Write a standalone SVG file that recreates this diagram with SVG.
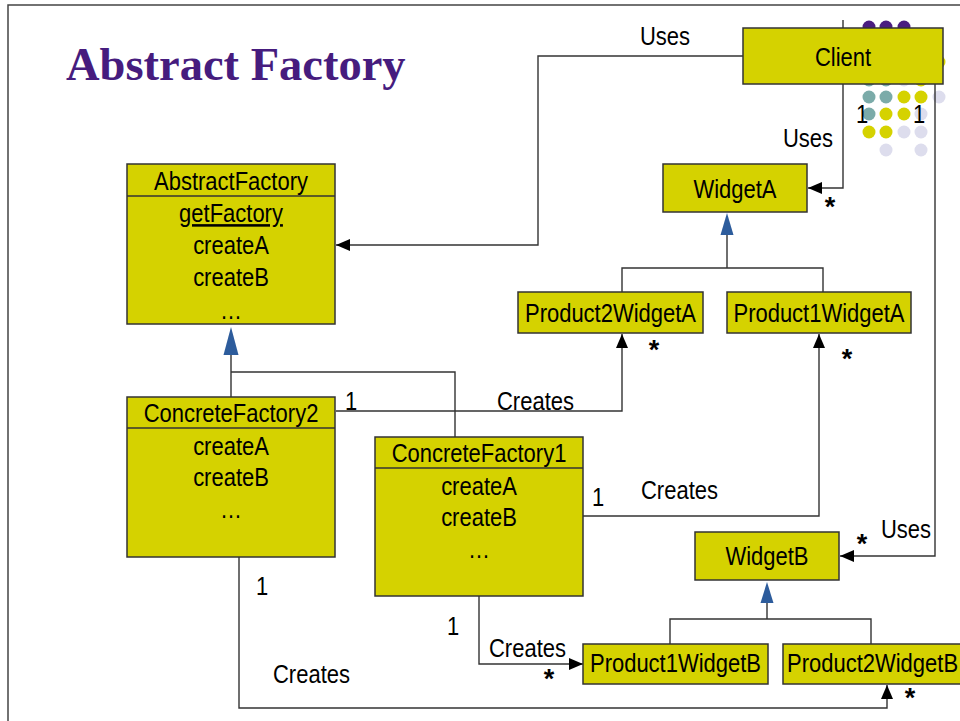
<svg xmlns="http://www.w3.org/2000/svg" width="960" height="721" viewBox="0 0 960 721">
<defs>
<style>
.box{fill:#D5D200;stroke:#333;stroke-width:1.5}
.div{stroke:#333;stroke-width:1.5}
.ln{fill:none;stroke:#333;stroke-width:1.4}
.arr{fill:none;stroke:#333;stroke-width:1.4;marker-end:url(#ah)}
.gen{fill:#2D5C9C;stroke:none}
.t{font-family:"Liberation Sans",Arial,sans-serif;font-size:22px;fill:#000}
.m{text-anchor:middle}
.st{font-family:"Liberation Sans",Arial,sans-serif;font-size:27px;font-weight:bold;fill:#000;text-anchor:middle}
.dp{fill:#4A1D80}.dt{fill:#7BABA9}.dy{fill:#D5D200}.dl{fill:#DDDDED}
</style>
<marker id="ah" markerUnits="userSpaceOnUse" markerWidth="14" markerHeight="12" refX="14" refY="6" orient="auto">
<path d="M0,0 L14,6 L0,12 z" fill="#000"/>
</marker>
</defs>
<rect width="960" height="721" fill="#fff"/>
<g id="frame">
<path d="M8,721 V5 H960" fill="none" stroke="#444" stroke-width="1.5"/>
</g>
<g id="dots">
<circle class="dp" cx="869" cy="27" r="6.5"/><circle class="dp" cx="886" cy="27" r="6.5"/><circle class="dp" cx="904" cy="27" r="6.5"/>
<circle class="dy" cx="939" cy="62" r="6.5"/>
<circle class="dt" cx="869" cy="80" r="6.5"/><circle class="dt" cx="886" cy="80" r="6.5"/><circle class="dl" cx="904" cy="80" r="6.5"/><circle class="dy" cx="921" cy="80" r="6.5"/>
<circle class="dt" cx="869" cy="97" r="6.5"/><circle class="dt" cx="886" cy="97" r="6.5"/><circle class="dy" cx="904" cy="97" r="6.5"/><circle class="dy" cx="921" cy="97" r="6.5"/><circle class="dl" cx="939" cy="97" r="6.5"/>
<circle class="dt" cx="869" cy="114" r="6.5"/><circle class="dy" cx="886" cy="114" r="6.5"/><circle class="dy" cx="904" cy="114" r="6.5"/><circle class="dl" cx="921" cy="114" r="6.5"/>
<circle class="dy" cx="869" cy="132" r="6.5"/><circle class="dy" cx="886" cy="132" r="6.5"/><circle class="dl" cx="904" cy="132" r="6.5"/><circle class="dl" cx="921" cy="132" r="6.5"/>
<circle class="dl" cx="886" cy="150" r="6.5"/><circle class="dl" cx="921" cy="150" r="6.5"/>
</g>
<text x="66" y="80" font-family="'Liberation Serif','Times New Roman',serif" font-size="46.5" font-weight="bold" fill="#461C7E">Abstract Factory</text>
<g id="connectors">
<path class="arr" d="M743,56 H538 V245 H336"/>
<path class="arr" d="M843,20 V188 H808"/>
<path class="arr" d="M935,84 V556 H840"/>
<path class="ln" d="M727,234 V268 M622,292 V268 H823 V292"/>
<polygon class="gen" points="727,213 720.5,235 733.5,235"/>
<path class="ln" d="M767,602 V619 M670,644 V619 H871 V644"/>
<polygon class="gen" points="767,582 760.5,603 773.5,603"/>
<path class="ln" d="M231,354 V397 M231,372 H455 V437"/>
<polygon class="gen" points="231,327 223.5,355 238.5,355"/>
<path class="arr" d="M336,411 H622 V334"/>
<path class="arr" d="M583,516 H819 V334"/>
<path class="arr" d="M479,596 V664 H583"/>
<path class="arr" d="M239,557 V708 H887 V685"/>
</g>
<g id="client">
<rect class="box" x="743" y="28" width="200" height="56"/>
<text class="t m" transform="translate(843 66) scale(1 1.15)">Client</text>
</g>
<g id="abstractFactory">
<rect class="box" x="127" y="164" width="208" height="160"/>
<line class="div" x1="127" y1="196" x2="335" y2="196"/>
<text class="t m" transform="translate(231 190) scale(1 1.15)">AbstractFactory</text>
<text class="t m" transform="translate(231 222) scale(1 1.15)" text-decoration="underline">getFactory</text>
<text class="t m" transform="translate(231 254) scale(1 1.15)">createA</text>
<text class="t m" transform="translate(231 286) scale(1 1.15)">createB</text>
<text class="t m" transform="translate(231 319) scale(1 1.15)">…</text>
</g>
<g id="widgetA">
<rect class="box" x="663" y="164" width="144" height="48"/>
<text class="t m" transform="translate(735 198) scale(1 1.15)">WidgetA</text>
</g>
<g id="product2WidgetA">
<rect class="box" x="518" y="292" width="185" height="41"/>
<text class="t m" transform="translate(610.5 322) scale(1 1.15)">Product2WidgetA</text>
</g>
<g id="product1WidgetA">
<rect class="box" x="727" y="292" width="184" height="41"/>
<text class="t m" transform="translate(819 322) scale(1 1.15)">Product1WidgetA</text>
</g>
<g id="concreteFactory2">
<rect class="box" x="127" y="397" width="208" height="160"/>
<line class="div" x1="127" y1="428" x2="335" y2="428"/>
<text class="t m" transform="translate(231 422) scale(1 1.15)">ConcreteFactory2</text>
<text class="t m" transform="translate(231 455) scale(1 1.15)">createA</text>
<text class="t m" transform="translate(231 486) scale(1 1.15)">createB</text>
<text class="t m" transform="translate(231 518) scale(1 1.15)">…</text>
</g>
<g id="concreteFactory1">
<rect class="box" x="375" y="437" width="208" height="159"/>
<line class="div" x1="375" y1="468" x2="583" y2="468"/>
<text class="t m" transform="translate(479 462) scale(1 1.15)">ConcreteFactory1</text>
<text class="t m" transform="translate(479 495) scale(1 1.15)">createA</text>
<text class="t m" transform="translate(479 526) scale(1 1.15)">createB</text>
<text class="t m" transform="translate(479 558) scale(1 1.15)">…</text>
</g>
<g id="widgetB">
<rect class="box" x="695" y="532" width="144" height="48"/>
<text class="t m" transform="translate(767 565) scale(1 1.15)">WidgetB</text>
</g>
<g id="product1WidgetB">
<rect class="box" x="583" y="644" width="185" height="40"/>
<text class="t m" transform="translate(675.5 672) scale(1 1.15)">Product1WidgetB</text>
</g>
<g id="product2WidgetB">
<rect class="box" x="783" y="644" width="180" height="40"/>
<text class="t" transform="translate(787 672) scale(1 1.15)">Product2WidgetB</text>
</g>
<g id="labels">
<text class="t" transform="translate(640 45) scale(1 1.15)">Uses</text>
<text class="t" text-anchor="end" transform="translate(833 147) scale(1 1.15)">Uses</text>
<text class="t" transform="translate(881 538) scale(1 1.15)">Uses</text>
<text class="t m" transform="translate(862 123) scale(1 1.15)">1</text>
<text class="t m" transform="translate(919 123) scale(1 1.15)">1</text>
<text class="t m" transform="translate(351 410) scale(1 1.15)">1</text>
<text class="t" transform="translate(497 410) scale(1 1.15)">Creates</text>
<text class="t m" transform="translate(598 506) scale(1 1.15)">1</text>
<text class="t" transform="translate(641 499) scale(1 1.15)">Creates</text>
<text class="t m" transform="translate(262 595) scale(1 1.15)">1</text>
<text class="t" transform="translate(273 683) scale(1 1.15)">Creates</text>
<text class="t m" transform="translate(453 635) scale(1 1.15)">1</text>
<text class="t" transform="translate(489 657) scale(1 1.15)">Creates</text>
<text class="st" x="830" y="216">*</text>
<text class="st" x="654" y="359">*</text>
<text class="st" x="847" y="368">*</text>
<text class="st" x="862" y="553">*</text>
<text class="st" x="549" y="688">*</text>
<text class="st" x="910" y="707">*</text>
</g>
</svg>
